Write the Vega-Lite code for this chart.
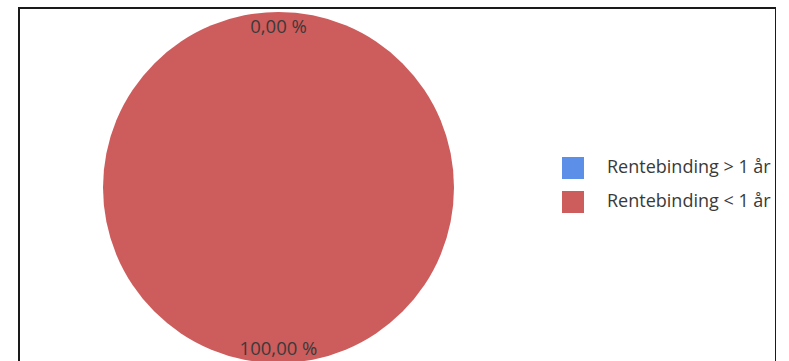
{
  "$schema": "https://vega.github.io/schema/vega-lite/v6.json",
  "autosize": "none",
  "padding": {"left": 19, "top": 8, "right": 0, "bottom": 0},
  "width": 757,
  "height": 400,
  "background": "white",
  "view": {"stroke": "#1a1a1a", "strokeWidth": 2},
  "config": {
    "view": {"stroke": "#1a1a1a", "strokeWidth": 2},
    "font": "Open Sans"
  },
  "data": {
    "values": [
      {"category": "Rentebinding > 1 år", "value": 0, "label": "0,00 %"},
      {"category": "Rentebinding < 1 år", "value": 100, "label": "100,00 %"}
    ]
  },
  "encoding": {
    "theta": {"field": "value", "type": "quantitative", "stack": true},
    "color": {
      "field": "category",
      "type": "nominal",
      "sort": ["Rentebinding > 1 år", "Rentebinding < 1 år"],
      "scale": {"domain": ["Rentebinding > 1 år", "Rentebinding < 1 år"], "range": ["#5B8FE8", "#CD5C5C"]},
      "legend": {
        "title": null,
        "orient": "none",
        "legendX": 543,
        "legendY": 149,
        "padding": 0,
        "symbolType": "square",
        "symbolSize": 484,
        "symbolStrokeWidth": 0,
        "symbolOpacity": 1,
        "labelOffset": 23,
        "rowPadding": 12,
        "labelFontSize": 18,
        "labelColor": "#3a3a3a",
        "labelFont": "Open Sans",
        "labelLimit": 400
      }
    }
  },
  "layer": [
    {
      "mark": {"type": "arc", "outerRadius": 175.5, "x": 259.5, "y": 179.5}
    },
    {
      "mark": {"type": "text", "radius": 161, "x": 259.5, "y": 179.5, "fontSize": 18.5, "font": "Open Sans"},
      "encoding": {
        "text": {"field": "label", "type": "nominal"},
        "color": {"value": "#3a3a3a"}
      }
    }
  ]
}
